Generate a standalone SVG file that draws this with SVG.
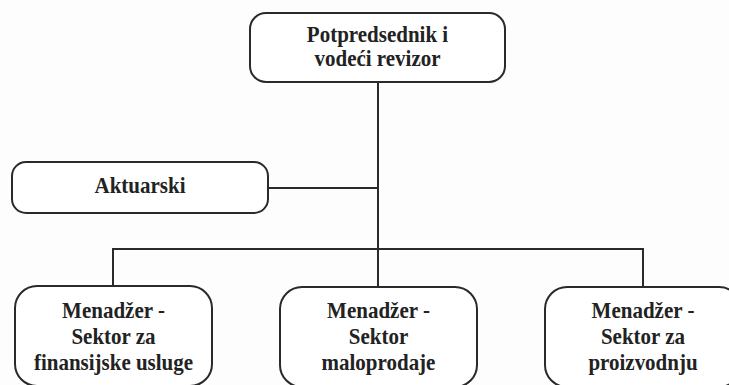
<svg xmlns="http://www.w3.org/2000/svg" width="729" height="385" viewBox="0 0 729 385">
  <style>
    .box { fill: #ffffff; stroke: #2a2a2a; stroke-width: 2; }
    .lbl { font-family: "Liberation Serif", "Times New Roman", serif; font-weight: bold; font-size: 21px; fill: #222222; text-anchor: middle; }
    .link { fill: none; stroke: #2a2a2a; stroke-width: 2; }
  </style>
  <rect width="729" height="385" fill="#fdfdfd"/>

  <!-- connectors -->
  <g id="connectors">
    <line class="link" x1="378" y1="82" x2="378" y2="287"/>
    <line class="link" x1="268" y1="188" x2="378" y2="188"/>
    <polyline class="link" points="113,287 113,249 643,249 643,287"/>
  </g>

  <!-- head of audit -->
  <g id="node-head">
    <rect class="box" x="250" y="13" width="255" height="69" rx="16"/>
    <text class="lbl" transform="translate(377.5,42) scale(1,1.12)">Potpredsednik i</text>
    <text class="lbl" transform="translate(377.5,66) scale(1,1.12)">vodeći revizor</text>
  </g>

  <!-- actuarial staff unit -->
  <g id="node-actuarial">
    <rect class="box" x="12" y="162" width="256" height="51" rx="14"/>
    <text class="lbl" transform="translate(140,193) scale(1,1.12)">Aktuarski</text>
  </g>

  <!-- sector managers -->
  <g id="node-financial">
    <rect class="box" x="15" y="286" width="197" height="100" rx="22"/>
    <text class="lbl" transform="translate(113.5,318) scale(1,1.12)">Menadžer -</text>
    <text class="lbl" transform="translate(113.5,344) scale(1,1.12)">Sektor za</text>
    <text class="lbl" transform="translate(113.5,370) scale(1,1.12)">finansijske usluge</text>
  </g>

  <g id="node-retail">
    <rect class="box" x="280" y="287" width="197" height="100" rx="22"/>
    <text class="lbl" transform="translate(378.5,318) scale(1,1.12)">Menadžer -</text>
    <text class="lbl" transform="translate(378.5,344) scale(1,1.12)">Sektor</text>
    <text class="lbl" transform="translate(378.5,370) scale(1,1.12)">maloprodaje</text>
  </g>

  <g id="node-production">
    <rect class="box" x="545" y="287" width="196" height="100" rx="22"/>
    <text class="lbl" transform="translate(643,318) scale(1,1.12)">Menadžer -</text>
    <text class="lbl" transform="translate(643,344) scale(1,1.12)">Sektor za</text>
    <text class="lbl" transform="translate(643,370) scale(1,1.12)">proizvodnju</text>
  </g>
</svg>
